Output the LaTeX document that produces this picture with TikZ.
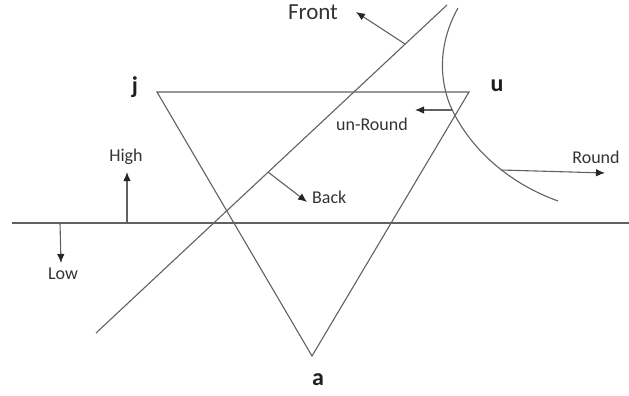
\documentclass[tikz,border=0pt]{standalone}
\usepackage{fontspec}
\setmainfont{Carlito}
\usepackage{tikz}
\usetikzlibrary{positioning, arrows.meta}

\begin{document}
\begin{tikzpicture}[
        x=1pt, y=-1pt,
        line/.style ={draw=black!62, line width=1.1pt},
        arr/.style  ={line, -{Latex[length=9pt, width=7.5pt, color=black!85]}},
        lbl/.style  ={font=\fontsize{18}{20}\selectfont, text=black!80, inner sep=0pt},
        big/.style  ={lbl, font=\fontsize{23}{26}\selectfont},
        vtx/.style  ={font=\bfseries\fontsize{24}{26}\selectfont, text=black!88, inner sep=0pt}
    ]
      \useasboundingbox (0,0) rectangle (629,396);

      % ===== TRIANGLE =====
      \coordinate (j) at (157,92);
      \coordinate (u) at (469,92);
      \coordinate (a) at (312,356);
      \draw[line] (j) -- (u) -- (a) -- cycle;
      \node[vtx] (jlbl) at (135,87)  {j};
      \node[vtx] (ulbl) at (497,86)  {u};
      \node[vtx] (albl) at (318,380) {a};

      % ===== HORIZONTAL LINE =====
      \coordinate (hl) at (12,223);
      \coordinate (hr) at (629,223);
      \draw[line] (hl) -- (hr);
      \coordinate (hbase) at (127,223);
      \coordinate (htip)  at (127,172);
      \coordinate (lbase) at (60,223);
      \coordinate (ltip)  at (61,263);
      \draw[arr] (hbase) -- (htip);
      \draw[arr] (lbase) -- (ltip);
      \node[lbl] (high) at (126,157) {High};
      \node[lbl] (low)  at (63,274)  {Low};

      % ===== DIAGONAL LINE =====
      \coordinate (dl) at (96,333);
      \coordinate (dr) at (447,5);
      \draw[line] (dl) -- (dr);
      \coordinate (fbase) at (405,44);
      \coordinate (ftip)  at (356,12);
      \coordinate (bbase) at (268,172);
      \coordinate (btip)  at (307,202);
      \draw[arr] (fbase) -- (ftip);
      \draw[arr] (bbase) -- (btip);
      \node[big] (front) at (313,12) {Front};
      \node[lbl, anchor=west] (back) at (312,197) {Back};

      % ===== CURVE =====
      \coordinate (ctop) at (458,8);
      \coordinate (cmid) at (450,105);
      \coordinate (cend) at (558,201);
      \draw[line] (ctop) .. controls (440,40) and (438,75) .. (cmid)
                         .. controls (465,140) and (500,180) .. (cend);
      \coordinate (ubase) at (452,110);
      \coordinate (utip)  at (415,110);
      \coordinate (rbase) at (501,170);
      \coordinate (rtip)  at (605,173);
      \draw[arr] (ubase) -- (utip);
      \draw[arr] (rbase) -- (rtip);
      \node[lbl] (unround) at (372,124) {un-Round};
      \node[lbl] (round)   at (596,157) {Round};
    \end{tikzpicture}
\end{document}
